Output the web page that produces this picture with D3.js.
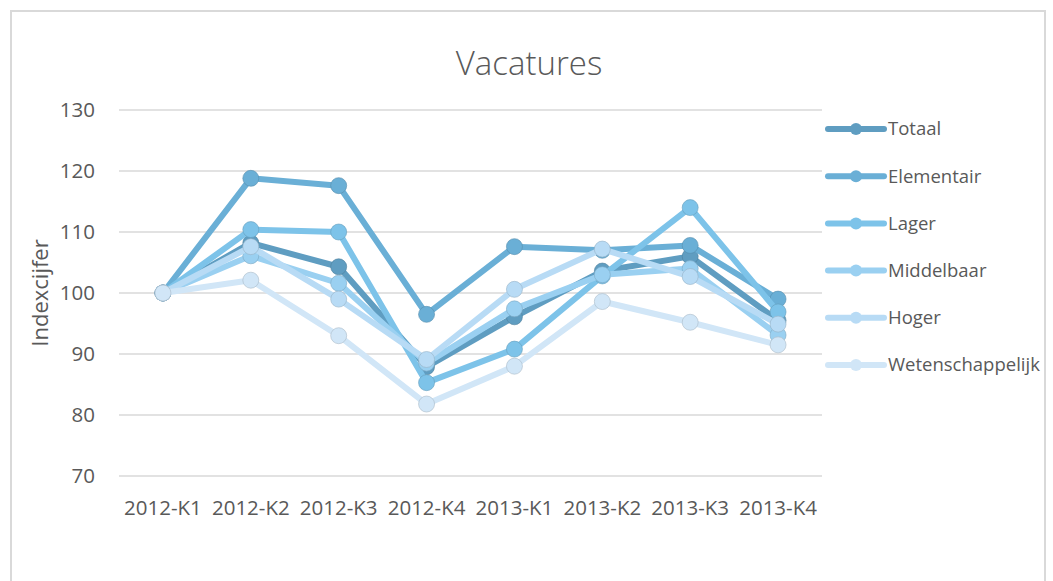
<!DOCTYPE html>
<html>
<head>
<meta charset="utf-8">
<script src="https://cdn.jsdelivr.net/npm/d3@7"></script>
<style>
  body { margin: 0; background: #fff; }
  svg text { font-family: "Open Sans", "Noto Sans", sans-serif; fill: #595959; }
</style>
</head>
<body>
<div id="chart"></div>
<script>
// kwartalen
var categories = ["2012-K1", "2012-K2", "2012-K3", "2012-K4", "2013-K1", "2013-K2", "2013-K3", "2013-K4"];

// indexcijfers per reeks
var totaal           = [100, 108.2, 104.3, 87.9, 96.1, 103.6, 106.0, 95.5];
var elementair       = [100, 118.8, 117.6, 96.5, 107.6, 107.0, 107.8, 99.0];
var lager            = [100, 110.4, 110.0, 85.3, 90.8, 102.8, 114.0, 96.9];
var middelbaar       = [100, 106.1, 101.6, 88.5, 97.4, 103.0, 104.0, 93.1];
var hoger            = [100, 107.6, 99.0, 89.1, 100.6, 107.2, 102.7, 94.9];
var wetenschappelijk = [100, 102.1, 93.0, 81.8, 88.0, 98.6, 95.2, 91.5];

var seriesNames = ["Totaal", "Elementair", "Lager", "Middelbaar", "Hoger", "Wetenschappelijk"];
var seriesValues = [totaal, elementair, lager, middelbaar, hoger, wetenschappelijk];
var seriesColors = ["#5f9dc1", "#6aafd6", "#7dc3e9", "#9ad0f1", "#b8dbf5", "#d1e6f7"];

var yTicks = [70, 80, 90, 100, 110, 120, 130];

var W = 1053, H = 581;
var plot = { left: 119, right: 822, top: 110, bottom: 476 };

var svg = d3.select("#chart").append("svg")
    .attr("width", W)
    .attr("height", H);

// rand van de grafiek
svg.append("rect")
    .attr("x", 11).attr("y", 11)
    .attr("width", 1034).attr("height", 600)
    .attr("fill", "#fff")
    .attr("stroke", "#d9d9d9")
    .attr("stroke-width", 2);

var x = d3.scaleBand()
    .domain(categories)
    .range([plot.left, plot.right]);
var y = d3.scaleLinear()
    .domain([70, 130])
    .range([plot.bottom, plot.top]);

function cx(c) { return x(c) + x.bandwidth() / 2; }

// rasterlijnen
svg.append("g")
    .selectAll("line")
    .data(yTicks)
    .enter().append("line")
    .attr("x1", plot.left).attr("x2", plot.right)
    .attr("y1", function (d) { return y(d); })
    .attr("y2", function (d) { return y(d); })
    .attr("stroke", "#d9d9d9")
    .attr("stroke-width", 1.5);

// y-as labels
var yAxis = svg.append("g")
    .attr("transform", "translate(" + plot.left + ",0)")
    .call(d3.axisLeft(y).tickValues(yTicks).tickSize(0).tickPadding(24));
yAxis.select(".domain").remove();
yAxis.selectAll("text")
    .style("font-size", "20.5px")
    .attr("fill", "#595959");

// x-as labels
var xAxis = svg.append("g")
    .attr("transform", "translate(0," + plot.bottom + ")")
    .call(d3.axisBottom(x).tickSize(0).tickPadding(24));
xAxis.select(".domain").remove();
xAxis.selectAll("text")
    .style("font-size", "20.5px")
    .attr("fill", "#595959");

// titel
svg.append("text")
    .attr("x", 529)
    .attr("y", 75)
    .attr("text-anchor", "middle")
    .style("font-size", "33px")
    .style("font-weight", 300)
    .text("Vacatures");

// as-titel
svg.append("text")
    .attr("transform", "translate(48," + ((plot.top + plot.bottom) / 2) + ") rotate(-90)")
    .attr("text-anchor", "middle")
    .style("font-size", "22px")
    .text("Indexcijfer");

// lijnen en markers
var line = d3.line()
    .x(function (d, i) { return cx(categories[i]); })
    .y(function (d) { return y(d); });

seriesValues.forEach(function (vals, s) {
    var g = svg.append("g").attr("class", "series");
    g.append("path")
        .datum(vals)
        .attr("d", line)
        .attr("fill", "none")
        .attr("stroke", seriesColors[s])
        .attr("stroke-width", 6)
        .attr("stroke-linejoin", "round");
    g.selectAll("circle")
        .data(vals)
        .enter().append("circle")
        .attr("cx", function (d, i) { return cx(categories[i]); })
        .attr("cy", function (d) { return y(d); })
        .attr("r", 8)
        .attr("fill", seriesColors[s])
        .attr("stroke", d3.color(seriesColors[s]).darker(0.6))
        .attr("stroke-width", 0.6);
});

// legenda
var legend = svg.append("g");
seriesNames.forEach(function (name, i) {
    var ly = 129 + i * 47.2;
    legend.append("line")
        .attr("x1", 828).attr("x2", 884)
        .attr("y1", ly).attr("y2", ly)
        .attr("stroke", seriesColors[i])
        .attr("stroke-width", 6)
        .attr("stroke-linecap", "round");
    legend.append("circle")
        .attr("cx", 856).attr("cy", ly)
        .attr("r", 6)
        .attr("fill", seriesColors[i]);
    legend.append("text")
        .attr("x", 888)
        .attr("y", ly)
        .attr("dy", "0.35em")
        .style("font-size", "18.5px")
        .text(name);
});
</script>
</body>
</html>
